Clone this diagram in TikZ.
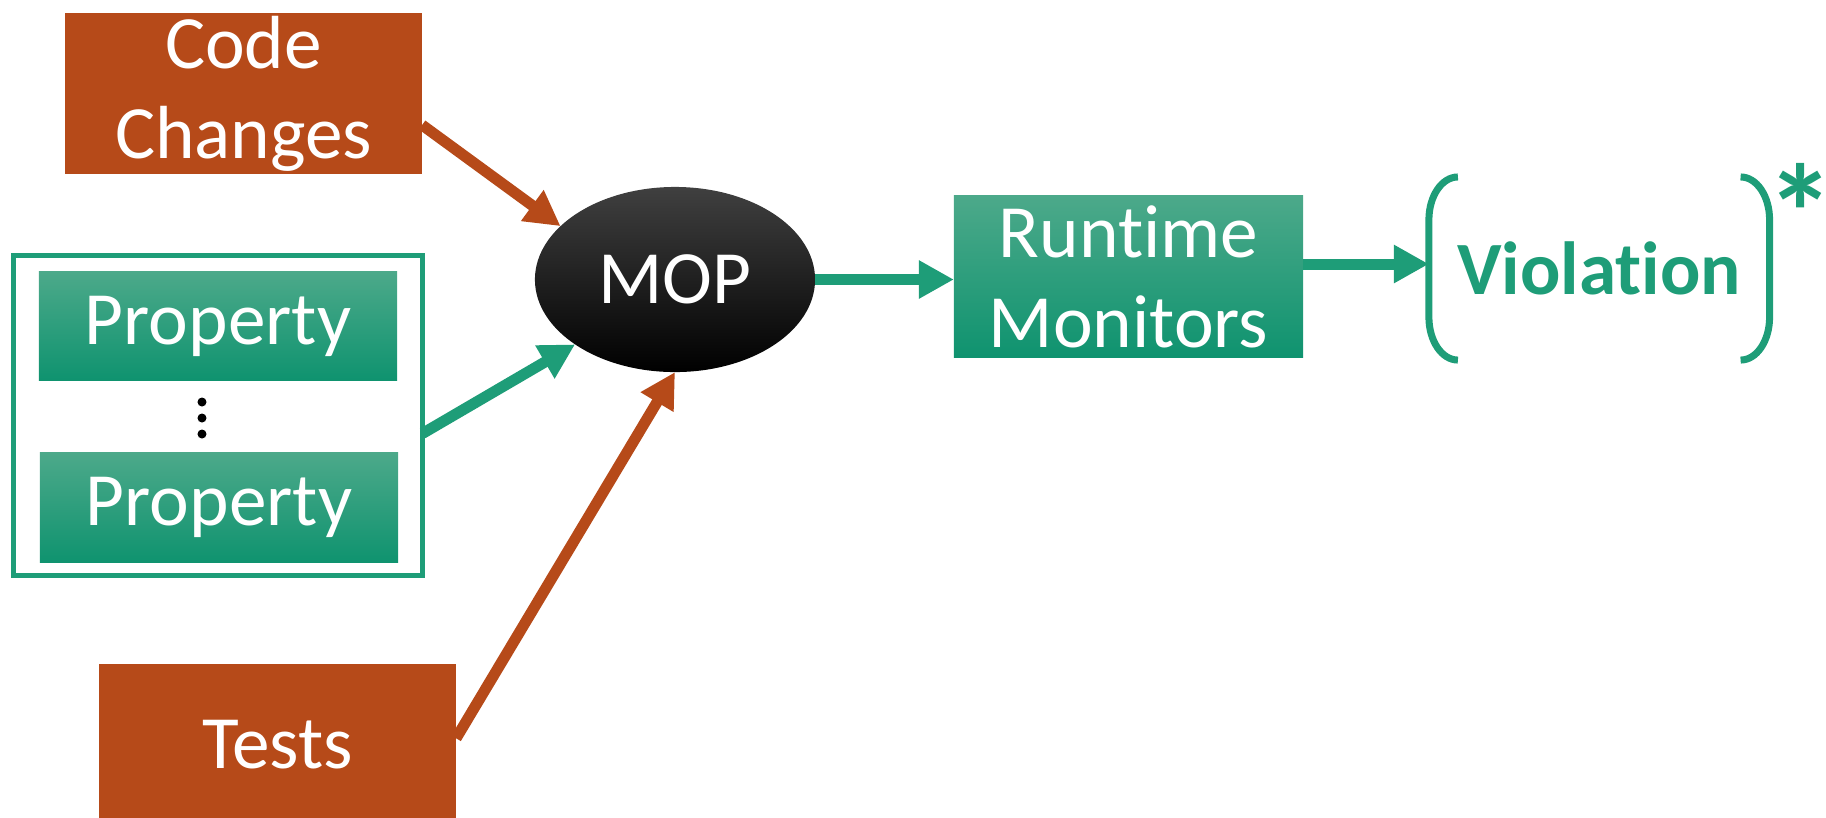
\documentclass[tikz,border=0pt]{standalone}
\usepackage{fontspec}
\setmainfont{Carlito}[Ligatures=NoCommon]
\usepackage{tikz}
\usetikzlibrary{calc}
\usetikzlibrary{arrows.meta,shapes.geometric}

\definecolor{rust}{HTML}{B64A19}
\definecolor{mopgreen}{HTML}{1E9D78}
\definecolor{gtop}{HTML}{4CA98A}
\definecolor{gmid}{HTML}{1DA07B}
\definecolor{gbot}{HTML}{0F936F}
\newcommand{\diagfont}{\fontsize{21.4pt}{25.6pt}\selectfont}

\begin{document}
\begin{tikzpicture}[x=0.01cm, y=-0.01cm,
		plainbox/.style={rectangle, inner sep=0pt, outer sep=0pt, text=white, align=center, font=\diagfont},
		inbox/.style={plainbox, fill=rust, minimum width=3.57cm, minimum height=1.6cm},
		greenbox/.style={plainbox, top color=gtop, middle color=gmid, bottom color=gbot},
		flow/.style={line width=0.11cm, -{Triangle[length=0.35cm, width=0.36cm]}},
		bracket/.style={mopgreen, line width=0.07cm}]
			\useasboundingbox (0,0) rectangle (1826,817);
			\clip (0,0) rectangle (1826,817);

			\coordinate (o) at (0,0);

			\node[ellipse, inner sep=0pt, outer sep=0pt, minimum width=2.8cm, minimum height=1.85cm, top color=black!75, middle color=black, bottom color=black, text=white, font=\diagfont] (mop) at ($(o)+(675,279.5)$) {MOP};

			\node[inbox] (code) at ($(mop)+(-431.5,-186)$) {Code\\Changes};
			\node[inbox, minimum height=1.61cm] (tests) at ($(mop)+(-397.5,465)$) {Tests};

			\node[greenbox, minimum width=3.58cm, minimum height=1.08cm] (prop1) at ($(mop)+(-457,46.5)$) {Property};
			\node[greenbox, minimum width=3.58cm, minimum height=1.09cm] (prop2) at ($(prop1)+(1,181.5)$) {Property};
			\node[draw=mopgreen, line width=0.055cm, inner sep=0pt, outer sep=0pt, minimum width=4.09cm, minimum height=3.2cm] (props) at ($(prop1)+(0,89.5)$) {};
			\foreach \d in {-16,0,16}
				\fill ($(props)+(-16,2.5)+(0,\d)$) circle (0.045cm);

			\node[greenbox, minimum width=3.49cm, minimum height=1.61cm] (rm) at ($(mop)+(453.5,-3)$) {Runtime\\Monitors};

			\node[inner sep=0pt, outer sep=0pt, minimum width=3.405cm, minimum height=1.83cm, text=mopgreen, font=\diagfont\bfseries] (viol) at ($(rm)+(470.75,-8)$) {Violation};
			\node[inner sep=0pt, text=mopgreen, font=\fontsize{39pt}{39pt}\selectfont\bfseries] (star) at ($(viol.north east)+(31,35)$) {\makebox[11pt]{*}};

			% brackets round the violation
			\draw[bracket] ($(viol.north west)+(29,0)$) .. controls ($(viol.north west)+(13,0)$) and ($(viol.north west)+(0,19)$) .. ($(viol.north west)+(0,43)$) -- ($(viol.south west)+(0,-43)$) .. controls ($(viol.south west)+(0,-19)$) and ($(viol.south west)+(13,0)$) .. ($(viol.south west)+(29,0)$);
			\draw[bracket] ($(viol.north east)+(-29,0)$) .. controls ($(viol.north east)+(-13,0)$) and ($(viol.north east)+(0,19)$) .. ($(viol.north east)+(0,43)$) -- ($(viol.south east)+(0,-43)$) .. controls ($(viol.south east)+(0,-19)$) and ($(viol.south east)+(-13,0)$) .. ($(viol.south east)+(-29,0)$);

			\draw[flow, rust] (code.-10.6) -- (mop.155);
			\draw[flow, mopgreen] (props.-5) -- (mop.213.5);
			\draw[flow, rust] (tests.2.4) -- (mop.270);
			\draw[flow, mopgreen] (mop.east) -- (mop.east -| rm.west);
			\coordinate (rmout) at ($(rm.east)+(0,-12.5)$);
			\draw[flow, mopgreen] (rmout) -- (rmout -| viol.west);

		\end{tikzpicture}
\end{document}
